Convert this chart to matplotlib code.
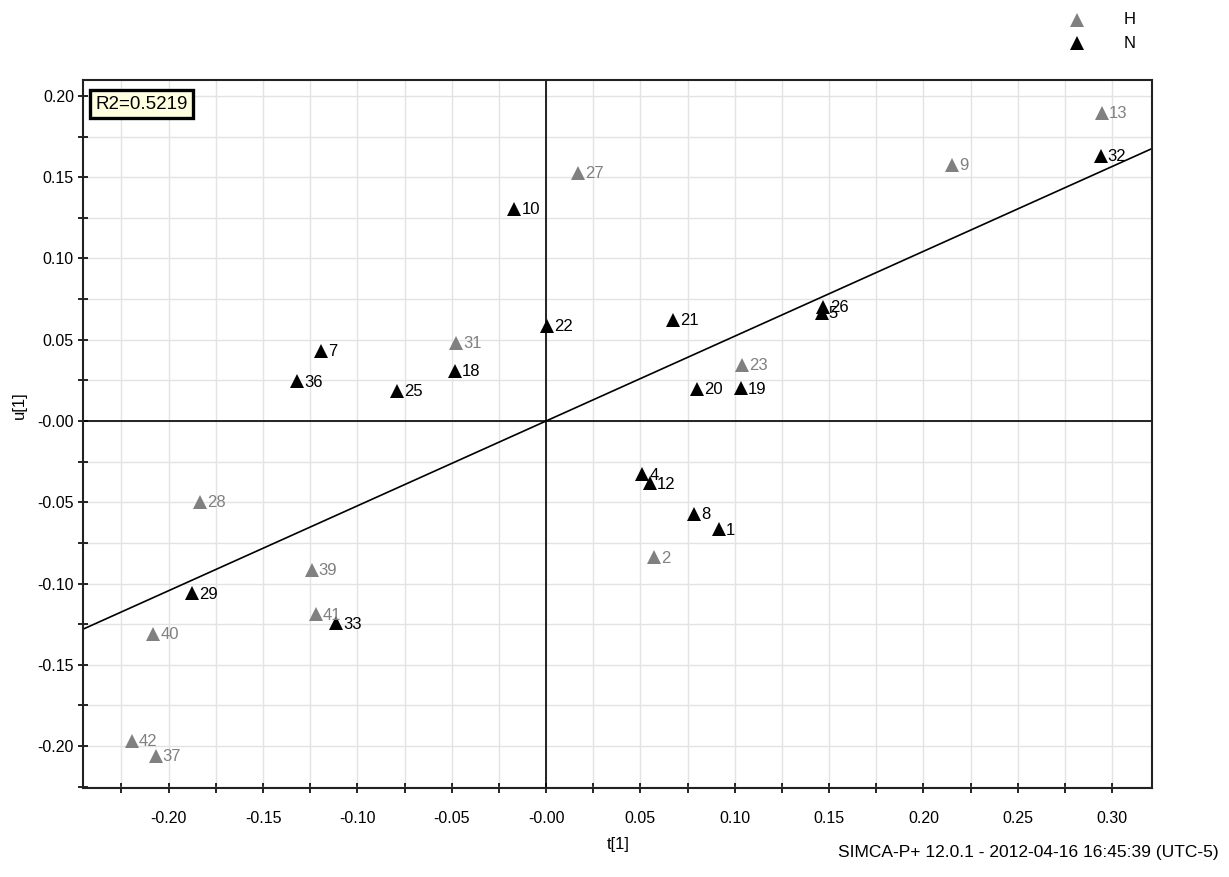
import matplotlib
matplotlib.use("Agg")
import matplotlib.pyplot as plt
from matplotlib.ticker import MultipleLocator, FuncFormatter

plt.rcParams['font.family'] = ['Liberation Sans', 'DejaVu Sans']

# ---- data ----
h_ids = ["13", "9", "27", "31", "23", "28", "2", "39", "41", "40", "42", "37"]
h_t = [0.2946, 0.2152, 0.0170, -0.0477, 0.1037, -0.1834, 0.0572, -0.1242, -0.1221, -0.2081, -0.2196, -0.2068]
h_u = [0.1897, 0.1575, 0.1524, 0.0482, 0.0345, -0.0496, -0.0839, -0.0917, -0.1190, -0.1311, -0.1967, -0.2062]

n_ids = ["32", "10", "22", "21", "26", "5", "7", "36", "18", "25", "20", "19",
         "4", "12", "8", "1", "29", "33"]
n_t = [0.2939, -0.0168, 0.0004, 0.0673, 0.1470, 0.1461, -0.1194, -0.1320, -0.0482, -0.0791,
       0.0802, 0.1032, 0.0510, 0.0551, 0.0786, 0.0918, -0.1878, -0.1113]
n_u = [0.1633, 0.1303, 0.0585, 0.0622, 0.0703, 0.0663, 0.0429, 0.0244, 0.0310, 0.0183,
       0.0195, 0.0201, -0.0328, -0.0384, -0.0574, -0.0667, -0.1061, -0.1245]

group_names = ["H", "N"]
group_colors = ["#808080", "#000000"]
fit_slope = 0.522
r2_text = "R2=0.5219"
x_label = "t[1]"
y_label = "u[1]"
footer = "SIMCA-P+ 12.0.1 - 2012-04-16 16:45:39 (UTC-5)"

W, H = 1229, 877
fig = plt.figure(figsize=(W / 100, H / 100), dpi=100)
ax = fig.add_axes([83 / W, 1 - 788 / H, (1152 - 83) / W, (788 - 80) / H])

ax.set_xlim(-0.2454, 0.3211)
ax.set_ylim(-0.2258, 0.2098)

# grid
ax.xaxis.set_major_locator(MultipleLocator(0.05))
ax.xaxis.set_minor_locator(MultipleLocator(0.025))
ax.yaxis.set_major_locator(MultipleLocator(0.05))
ax.yaxis.set_minor_locator(MultipleLocator(0.025))
ax.grid(True, which='both', color='#e3e3e3', linewidth=1.0, zorder=0)
ax.set_axisbelow(True)


def fmt(v, pos):
    if abs(v) < 1e-9:
        return "-0.00"
    return f"{v:.2f}"


ax.xaxis.set_major_formatter(FuncFormatter(fmt))
ax.yaxis.set_major_formatter(FuncFormatter(fmt))
ax.tick_params(which='both', direction='inout', length=7, width=1.2, colors='black',
               labelsize=11.5, top=False, right=False)
ax.tick_params(axis='x', pad=13)
ax.tick_params(axis='y', pad=3)

for s in ax.spines.values():
    s.set_linewidth(1.5)
    s.set_color('#222222')

# zero lines and fit line
ax.axhline(0, color='black', linewidth=1.2, zorder=1)
ax.axvline(0, color='black', linewidth=1.2, zorder=1)
ax.axline((0, 0), slope=fit_slope, color='black', linewidth=1.2, zorder=1)

# points
for ids, xs, ys, col in [(h_ids, h_t, h_u, group_colors[0]), (n_ids, n_t, n_u, group_colors[1])]:
    ax.plot(xs, ys, linestyle='none', marker='^', markersize=10, color=col,
            markeredgewidth=0, zorder=3)
    for lab, x, y in zip(ids, xs, ys):
        ax.annotate(lab, (x, y), xytext=(5, -0.5), textcoords='offset points',
                    fontsize=12, color=col, va='center', ha='left', zorder=4)

# R2 box
ax.text(0.0115, 0.978, r2_text, transform=ax.transAxes, fontsize=13.5, va='top', ha='left',
        bbox=dict(boxstyle='square,pad=0.3', facecolor='#ffffe0', edgecolor='black', linewidth=2.4),
        zorder=5)

# axis labels
fig.text(618 / W, 1 - 845 / H, x_label, ha='center', va='center', fontsize=12)
fig.text(19 / W, 1 - 405 / H, y_label, ha='center', va='center', fontsize=12, rotation=90)

# legend
for i, (name, col) in enumerate(zip(group_names, group_colors)):
    yy = 1 - (20 + 23 * i) / H
    fig.lines.append(plt.Line2D([1077 / W], [yy], transform=fig.transFigure, marker='^',
                                markersize=10, color=col, markeredgewidth=0, linestyle='none'))
    fig.text(1130 / W, yy, name, ha='center', va='center', fontsize=12)

# footer
fig.text(1219 / W, 1 - 853 / H, footer, ha='right', va='center', fontsize=12.5)

fig.savefig("out.png", dpi=100)
